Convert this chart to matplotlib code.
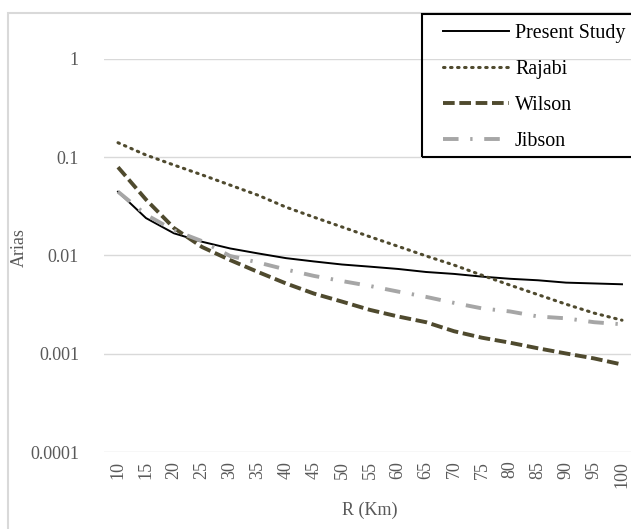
import matplotlib.pyplot as plt
from matplotlib.patches import Rectangle

plt.rcParams['font.family'] = ['Liberation Serif', 'DejaVu Serif']

# distance categories (km)
distance = [10, 15, 20, 25, 30, 35, 40, 45, 50, 55, 60, 65, 70, 75, 80, 85, 90, 95, 100]

present_study = [0.0445, 0.024, 0.0168, 0.0138, 0.0118, 0.0105, 0.0094, 0.0087, 0.0081, 0.0077,
                 0.0073, 0.0068, 0.0065, 0.0061, 0.0058, 0.0056, 0.0053, 0.0052, 0.0051]
rajabi = [0.14, 0.105, 0.083, 0.066, 0.052, 0.041, 0.031, 0.0245, 0.0195, 0.0155,
          0.0124, 0.0099, 0.008, 0.0063, 0.005, 0.004, 0.0032, 0.0026, 0.0022]
wilson = [0.079, 0.037, 0.019, 0.0122, 0.009, 0.0068, 0.0052, 0.0041, 0.0034, 0.0028,
          0.0024, 0.0021, 0.0017, 0.00146, 0.0013, 0.00114, 0.00101, 0.0009, 0.00078]
jibson = [0.0445, 0.026, 0.018, 0.014, 0.0099, 0.0085, 0.0072, 0.0062, 0.0055, 0.0049,
          0.0043, 0.0038, 0.0033, 0.0029, 0.0027, 0.0024, 0.0023, 0.0021, 0.002]

olive = '#4f4a2e'
grey_txt = '#595959'
W, H = 631, 529

fig = plt.figure(figsize=(W / 100, H / 100), dpi=100)

# outer chart frame (light grey)
fig.patches.append(Rectangle((8 / W, -0.01), 1.0, 1 - 13 / H + 0.01, transform=fig.transFigure,
                             fill=False, edgecolor='#d9d9d9', linewidth=1.5))

ax = fig.add_axes([104 / W, 76.7 / H, 532 / W, 393.6 / H])
idx = list(range(len(distance)))

ax.plot(idx, present_study, color='black', lw=1.4, label='Present Study')
ax.plot(idx, rajabi, color=olive, lw=2.2, linestyle=(0, (0.5, 1.8)), dash_capstyle='round',
        label='Rajabi')
ax.plot(idx, wilson, color=olive, lw=2.8, linestyle=(0, (3, 1.2)), label='Wilson')
ax.plot(idx, jibson, color='#a6a6a6', lw=2.8, linestyle=(0, (4, 3, 0.6, 3)), label='Jibson')

ax.set_yscale('log')
ax.set_ylim(1e-4, 1)
ax.set_xlim(-0.5, 18.5)
ax.set_yticks([1e-4, 1e-3, 1e-2, 1e-1, 1])
ax.set_yticklabels(['0.0001', '0.001', '0.01', '0.1', '1'])
ax.minorticks_off()
ax.set_xticks(idx)
ax.set_xticklabels([str(d) for d in distance], rotation=90)
ax.tick_params(length=0, labelsize=13, labelcolor=grey_txt)
ax.tick_params(axis='y', pad=18)
ax.tick_params(axis='x', pad=6)
ax.grid(axis='y', color='#d9d9d9', lw=1)
ax.set_axisbelow(True)
for s in ax.spines.values():
    s.set_visible(False)

ax.set_xlabel('R (Km)', fontsize=13, color=grey_txt, labelpad=10)
ax.set_ylabel('Arias', fontsize=13, color=grey_txt)
ax.yaxis.set_label_coords(-0.143, 0.52)

# legend: frame drawn separately so it runs past the right edge like the original
fig.patches.append(Rectangle((422 / W, 1 - 157 / H), 230 / W, 143 / H, transform=fig.transFigure,
                             fill=False, edgecolor='black', linewidth=1.5, zorder=5))
leg = ax.legend(loc='upper left', bbox_to_anchor=(443 / W, 1 - 24 / H), bbox_transform=fig.transFigure,
                fontsize=14.4, frameon=False, handlelength=3.3, labelspacing=0.85,
                borderpad=0, borderaxespad=0, handletextpad=0.3)

fig.savefig('out.png', dpi=100)
